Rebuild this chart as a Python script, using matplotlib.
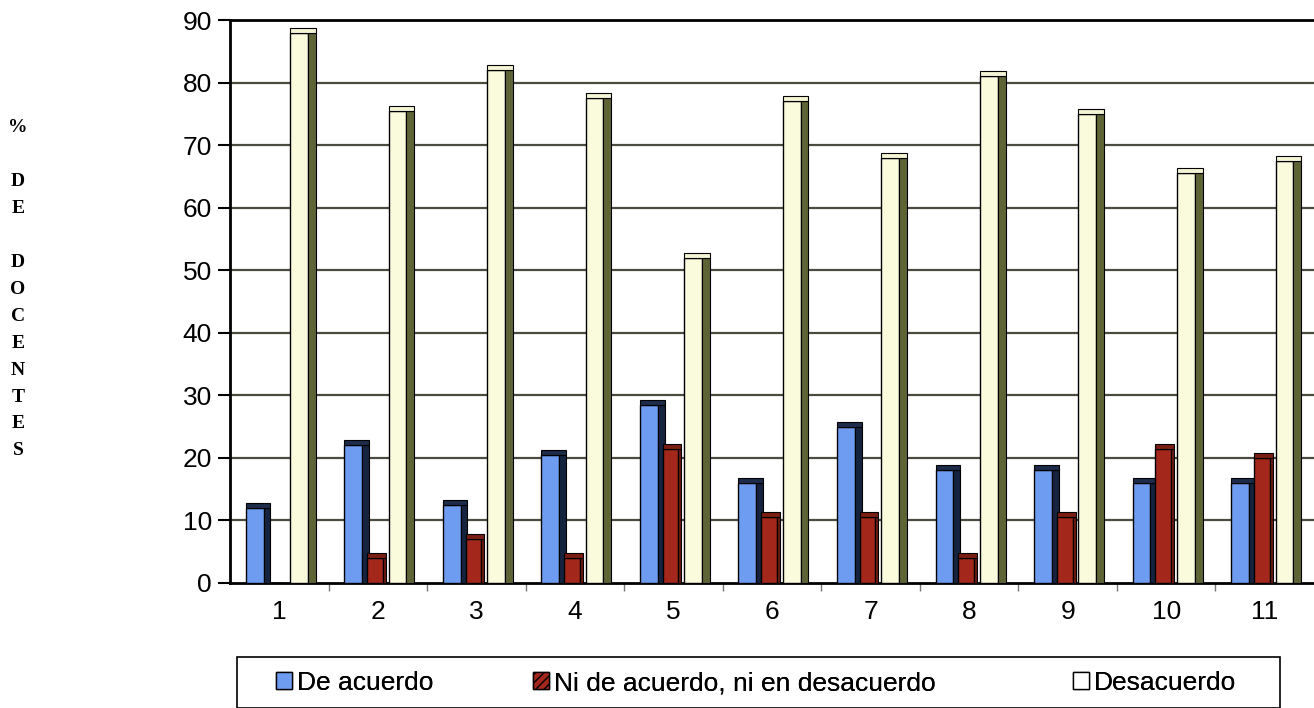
import matplotlib
matplotlib.use("Agg")
import matplotlib.pyplot as plt
import numpy as np
from matplotlib.patches import Rectangle, Patch

categories = ["1", "2", "3", "4", "5", "6", "7", "8", "9", "10", "11"]
de_acuerdo = [12, 22, 12.5, 20.5, 28.5, 16, 25, 18, 18, 16, 16]
ni_ni = [0, 4, 7, 4, 21.5, 10.5, 10.5, 4, 10.5, 21.5, 20]
desacuerdo = [88, 75.5, 82, 77.5, 52, 77, 68, 81, 75, 65.5, 67.5]
series_names = ["De acuerdo", "Ni de acuerdo, ni en desacuerdo", "Desacuerdo"]
y_ticks = [0, 10, 20, 30, 40, 50, 60, 70, 80, 90]
ylabel_chars = ["%", "", "D", "E", "", "D", "O", "C", "E", "N", "T", "E", "S"]

W, H = 1314, 708
fig = plt.figure(figsize=(W / 100, H / 100), dpi=100)
fig.patch.set_facecolor("white")
ax = fig.add_axes([230 / W, (H - 583) / H, (W - 230) / W, (583 - 20) / H])

x = np.arange(1, len(categories) + 1)

# gridlines
for t in y_ticks[1:-1]:
    ax.axhline(t, color="#4b4b40", lw=1.6, zorder=0)

def bar3d(pos, vals, face, side, fw, sw, cap):
    ax.bar(pos, vals, width=fw, color=face, edgecolor="black", lw=1.0, zorder=3)
    ax.bar(pos + fw / 2 + sw / 2, vals, width=sw, color=side, edgecolor="black",
           lw=0.8, zorder=3)
    ax.bar(pos + sw / 2, [0.8 if v > 0 else 0 for v in vals], bottom=vals,
           width=fw + sw, color=cap, edgecolor="black", lw=0.8, zorder=3)

bar3d(x - 0.25, de_acuerdo, "#6e9cf0", "#15233f", 0.18, 0.07, "#1d2c4a")
bar3d(x - 0.03, ni_ni, "#a3281b", "#6b1a10", 0.16, 0.03, "#7a1e14")
bar3d(x + 0.20, desacuerdo, "#fafadd", "#5f6437", 0.18, 0.08, "#f4f4d4")

ax.set_xlim(0.5, 11.5)
ax.set_ylim(0, 90)
ax.set_yticks(y_ticks)
ax.set_yticklabels([str(t) for t in y_ticks], fontsize=19, family="Liberation Sans")
ax.set_xticks(x)
ax.set_xticklabels(categories, fontsize=19, family="Liberation Sans")
ax.tick_params(axis="x", length=0, pad=12)
ax.tick_params(axis="y", length=9, width=1.5, direction="out", pad=4)
ax.set_xticks(np.arange(1.5, 11.5, 1), minor=True)
ax.tick_params(axis="x", which="minor", length=6, width=1, color="#777777")
for s in ["left", "bottom", "top"]:
    ax.spines[s].set_linewidth(2)
    ax.spines[s].set_color("black")
ax.spines["right"].set_visible(False)

# vertical stacked y label
y0 = 128
for i, ch in enumerate(ylabel_chars):
    if ch:
        fig.text(18 / W, 1 - (y0 + i * 26.9) / H, ch, ha="center", va="center",
                 fontsize=14, family="Liberation Serif", fontweight="bold")

# legend box
fig.patches.append(Rectangle((237 / W, 0), (1280 - 237) / W, (H - 657) / H,
                             transform=fig.transFigure, fill=False,
                             edgecolor="black", lw=1.2))
handles = [Patch(facecolor="#6e9cf0", edgecolor="black"),
           Patch(facecolor="#a3281b", edgecolor="black", hatch="////"),
           Patch(facecolor="white", edgecolor="black")]
leg_x = [276, 533, 1073]
for h, name, lx in zip(handles, series_names, leg_x):
    lg = fig.legend([h], [name], loc="center left",
                    bbox_to_anchor=(lx / W, 1 - 683 / H), frameon=False,
                    prop={"family": "Liberation Sans", "size": 19},
                    handlelength=0.6, handleheight=0.6, handletextpad=0.2,
                    borderaxespad=0, borderpad=0)
    fig.add_artist(lg)

fig.savefig("out.png", dpi=100)
